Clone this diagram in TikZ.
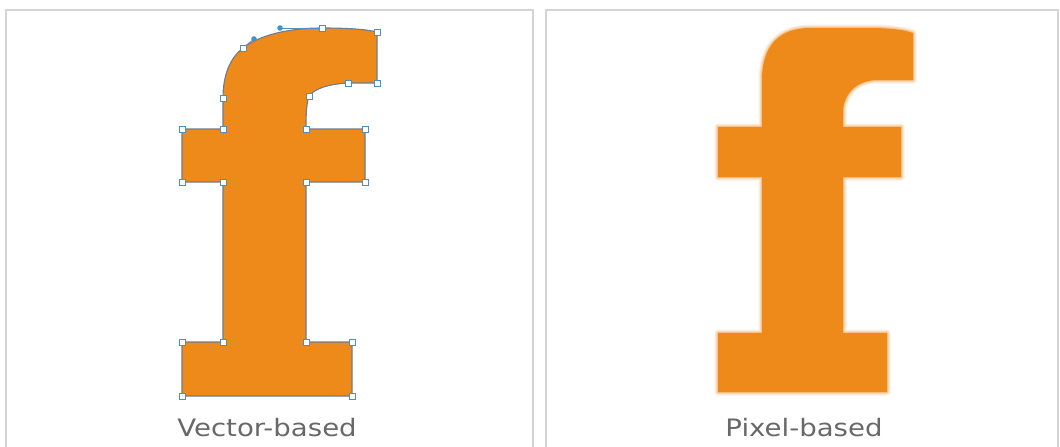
\documentclass[tikz,border=0pt]{standalone}
\usepackage{fontspec}
\setmainfont[FakeStretch=1.15]{DejaVu Sans}
\definecolor{forange}{HTML}{EE8A1A}
\definecolor{outl}{HTML}{6E7C8E}
\definecolor{hblue}{HTML}{4A90C8}
\definecolor{panel}{HTML}{D4D4D4}
\definecolor{labgray}{HTML}{686868}
\tikzset{
  panelline/.style={draw=panel, line width=1.5pt},
  vglyph/.style={fill=forange, draw=outl, line width=1.1pt, line join=miter},
  handlebox/.style={draw=hblue, fill=white, line width=0.8pt},
  label/.style={text=labgray, font=\fontsize{24}{28}\selectfont, anchor=base, inner sep=0pt},
}
\begin{document}
\begin{tikzpicture}[x=1pt,y=-1pt]
\useasboundingbox (0,0) rectangle (1060,447);
\fill[white] (0,0) rectangle (1060,447);
% panels
\draw[panelline] (6,447) -- (6,10) -- (533,10) -- (533,447);
\draw[panelline] (546,447) -- (546,10) -- (1058,10) -- (1058,447);
% vector-based f
\path[vglyph] (377,32) -- (377,83) -- (348,83)
  .. controls (330,84) and (315,88) .. (309,96)
  .. controls (306,105) and (306,118) .. (306,129)
  -- (365,129) -- (365,182) -- (306,182) -- (306,342) -- (352,342) -- (352,396)
  -- (182,396) -- (182,342) -- (223,342) -- (223,182) -- (182,182) -- (182,129)
  -- (223,129) -- (223,98)
  .. controls (223,75) and (230,58) .. (243,48)
  .. controls (254,39) and (280,28) .. (322,28)
  .. controls (345,28) and (365,29) .. (377,32) -- cycle;
% control handles
\draw[hblue, line width=0.8pt] (243,48) -- (254,39);
\draw[hblue, line width=0.8pt] (322,28) -- (280,28);
\fill[hblue] (254,39) circle (2.8);
\fill[hblue] (280,28) circle (2.8);
% anchor points
\foreach \p in {(377,32),(377,83),(348,83),(309,96),(306,129),(365,129),(365,182),(306,182),
  (306,342),(352,342),(352,396),(182,396),(182,342),(223,342),(223,182),(182,182),(182,129),
  (223,129),(223,98),(243,48),(322,28)}
  \draw[handlebox] \p ++(-3,-3) rectangle ++(6,6);
% pixel-based f (blurred)
\def\pixf{(913,33) -- (913,80) -- (878,80)
  .. controls (860,80) and (845,90) .. (843,110) -- (843,127) -- (901,127) -- (901,177)
  -- (843,177) -- (843,333) -- (887,333) -- (887,392) -- (718,392) -- (718,333)
  -- (762,333) -- (762,177) -- (718,177) -- (718,127) -- (762,127) -- (762,80)
  .. controls (762,45) and (780,28) .. (810,28) -- (870,28)
  .. controls (890,28) and (905,30) .. (913,33) -- cycle}
\draw[forange, opacity=0.12, line width=7pt, line join=round] \pixf;
\draw[forange, opacity=0.18, line width=4.5pt, line join=round] \pixf;
\draw[forange, opacity=0.3, line width=2.2pt, line join=round] \pixf;
\fill[forange] \pixf;
% labels
\node[label] (vlab) at (267,436) {Vector-based};
\node[label] (plab) at (804,436) {Pixel-based};
\end{tikzpicture}
\end{document}
